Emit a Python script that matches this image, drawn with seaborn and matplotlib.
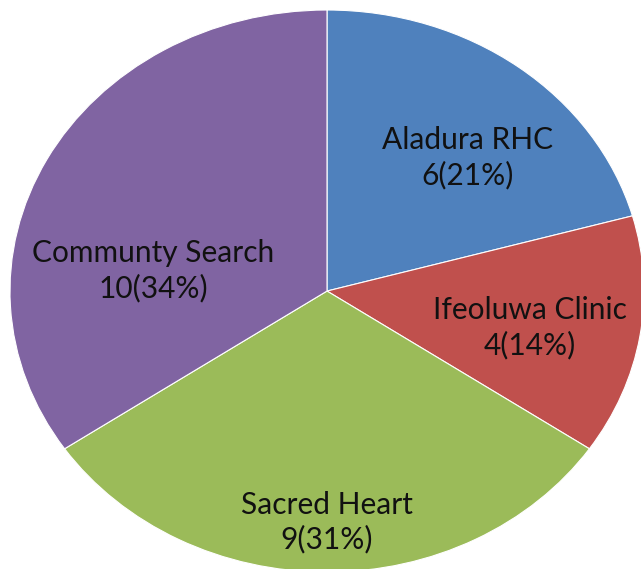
import numpy as np
import matplotlib
matplotlib.use("Agg")
import matplotlib.pyplot as plt
import seaborn as sns

# Data
sites = ["Aladura RHC", "Ifeoluwa Clinic", "Sacred Heart", "Communty Search"]
counts = [6, 4, 9, 10]
percents = [21, 14, 31, 34]
colors = ["#4F81BD", "#C0504D", "#9BBB59", "#8064A2"]

sns.set_theme(style="white")
plt.rcParams["font.family"] = ["Lato", "DejaVu Sans"]

fig = plt.figure(figsize=(6.41, 5.69), dpi=100)
ax = fig.add_axes([0, 0, 1, 1])

wedges, _ = ax.pie(
    counts,
    colors=colors,
    startangle=90,
    counterclock=False,
    radius=1.0,
    wedgeprops=dict(edgecolor="white", linewidth=0.8),
)

# label distance from centre (fraction of radius), and angle tweak per slice
label_dist = [0.66, 0.65, 0.81, 0.556]
angle_shift = [-5, -1, 0, 19]
total = sum(counts)
start = 90.0
for i, (w, name, c, p) in enumerate(zip(wedges, sites, counts, percents)):
    span = c / total * 360
    mid = np.deg2rad(start - span / 2 + angle_shift[i])
    start -= span
    ax.text(
        label_dist[i] * np.cos(mid),
        label_dist[i] * np.sin(mid) - 0.014,
        f"{name}\n{c}({p}%)",
        ha="center", va="center", fontsize=21.5, color="#111111",
        linespacing=1.25,
    )

# stretch the pie into an ellipse and clip like the reference
ax.set_aspect("auto")
ax.set_xlim(-1.0315, 0.9905)
ax.set_ylim(-0.989, 1.0356)
ax.axis("off")

fig.savefig("out.png", dpi=100)
